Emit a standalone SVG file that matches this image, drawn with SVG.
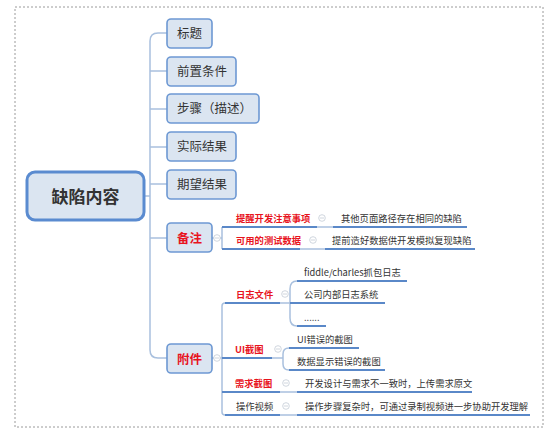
<svg xmlns="http://www.w3.org/2000/svg" width="554" height="433" viewBox="0 0 554 433">
<style>
text{font-family:"Noto Sans CJK SC","Liberation Sans",sans-serif;fill:#333}
.n{fill:#dbe5f1;stroke:#6d98d3;stroke-width:1.6}
.c{fill:none;stroke:#a9c0de;stroke-width:1.5}
.u{fill:none;stroke:#5a88c8;stroke-width:2}
.t1{font-size:12.5px}
.red{fill:#e8141e;font-weight:bold}
.t2{font-size:9.3px}
.k{fill:#fff;stroke:#c4cbd6;stroke-width:0.8}
.km{stroke:#c4cbd6;stroke-width:0.8}
</style>
<rect x="15" y="7" width="528" height="420" fill="#fff" stroke="#9a9a9a" stroke-width="1" stroke-dasharray="2,2"/>
<g id="connectors">
<path class="c" d="M144,196 H150 M150,196 V41 Q150,33 158,33 H167 M150,71 H167 M150,109 H167 M150,147 H167 M150,184 H167 M150,196 V350 Q150,358 158,358 H167 M150,238 H167"/>
<path class="c" d="M212,238 H222 M222,227 V249 M212,358 H222 M222,306 V412 Q222,415 225,415 M222,306 Q222,303 225,303"/>
<path class="c" d="M280,303 H290 M297,281 Q290,281 290,289 V318 Q290,326 297,326"/>
<path class="c" d="M272,358 H283 M289,348 Q283,348 283,354 V364 Q283,370 289,370"/>
<path class="c" d="M280,392 H297 M280,415 H297 M317,227 H333 M300,249 H325"/>
<circle class="k" cx="217" cy="238" r="3.3"/><path class="km" d="M215,238 H219"/>
<circle class="k" cx="217" cy="358" r="3.3"/><path class="km" d="M215,358 H219"/>
</g>
<g id="center"><rect x="27" y="172" width="117" height="48" rx="8" fill="#dbe5f1" stroke="#5a8bd0" stroke-width="3"/><text x="85.5" y="203" text-anchor="middle" style="font-size:17px;font-weight:bold">缺陷内容</text></g>
<g id="n-title"><rect class="n" x="167" y="19" width="45" height="29" rx="4"/><text class="t1" x="177" y="38">标题</text></g>
<g id="n-pre"><rect class="n" x="167" y="57" width="69" height="29" rx="4"/><text class="t1" x="177" y="76">前置条件</text></g>
<g id="n-steps"><rect class="n" x="167" y="94" width="92" height="29" rx="4"/><text class="t1" x="177" y="113">步骤（描述）</text></g>
<g id="n-actual"><rect class="n" x="167" y="132" width="69" height="29" rx="4"/><text class="t1" x="177" y="151">实际结果</text></g>
<g id="n-expect"><rect class="n" x="167" y="170" width="69" height="29" rx="4"/><text class="t1" x="177" y="189">期望结果</text></g>
<g id="n-note"><rect class="n" x="167" y="223" width="45" height="29" rx="4"/><text class="t1 red" x="189.5" y="242.5" text-anchor="middle">备注</text></g>
<g id="n-attach"><rect class="n" x="167" y="344" width="45" height="29" rx="4"/><text class="t1 red" x="189.5" y="363.5" text-anchor="middle">附件</text></g>
<g id="note-1"><path class="u" d="M222,227 H317"/><text class="t2 red" x="236" y="222">提醒开发注意事项</text><circle class="k" cx="322" cy="218" r="3.3"/><path class="km" d="M320,218 H324"/></g>
<g id="note-1a"><path class="u" d="M333,227 H467"/><text class="t2" x="341" y="222">其他页面路径存在相同的缺陷</text></g>
<g id="note-2"><path class="u" d="M222,249 H300"/><text class="t2 red" x="236" y="244">可用的测试数据</text><circle class="k" cx="313" cy="240" r="3.3"/><path class="km" d="M311,240 H315"/></g>
<g id="note-2a"><path class="u" d="M325,249 H475"/><text class="t2" x="332" y="244">提前造好数据供开发模拟复现缺陷</text></g>
<g id="att-log"><path class="u" d="M225,303 H280"/><text class="t2 red" x="236" y="298">日志文件</text><circle class="k" cx="285" cy="294" r="3.3"/><path class="km" d="M283,294 H287"/></g>
<g id="log-1"><path class="u" d="M297,281 H407"/><text class="t2" x="304" y="276">fiddle/charles抓包日志</text></g>
<g id="log-2"><path class="u" d="M290,303 H385"/><text class="t2" x="304" y="298">公司内部日志系统</text></g>
<g id="log-3"><path class="u" d="M297,326 H326"/><text class="t2" x="304" y="321">......</text></g>
<g id="att-ui"><path class="u" d="M222,358 H272"/><text class="t2 red" x="235" y="353">UI截图</text><circle class="k" cx="278" cy="349" r="3.3"/><path class="km" d="M276,349 H280"/></g>
<g id="ui-1"><path class="u" d="M289,348 H359"/><text class="t2" x="297" y="343">UI错误的截图</text></g>
<g id="ui-2"><path class="u" d="M289,370 H385"/><text class="t2" x="297" y="365">数据显示错误的截图</text></g>
<g id="att-req"><path class="u" d="M222,392 H280"/><text class="t2 red" x="235" y="387">需求截图</text><circle class="k" cx="286" cy="383" r="3.3"/><path class="km" d="M284,383 H288"/></g>
<g id="req-1"><path class="u" d="M297,392 H472"/><text class="t2" x="305" y="387">开发设计与需求不一致时，上传需求原文</text></g>
<g id="att-video"><path class="u" d="M225,415 H280"/><text class="t2" x="236" y="410">操作视频</text><circle class="k" cx="286" cy="406" r="3.3"/><path class="km" d="M284,406 H288"/></g>
<g id="video-1"><path class="u" d="M297,415 H530"/><text class="t2" x="305" y="410">操作步骤复杂时，可通过录制视频进一步协助开发理解</text></g>
</svg>
